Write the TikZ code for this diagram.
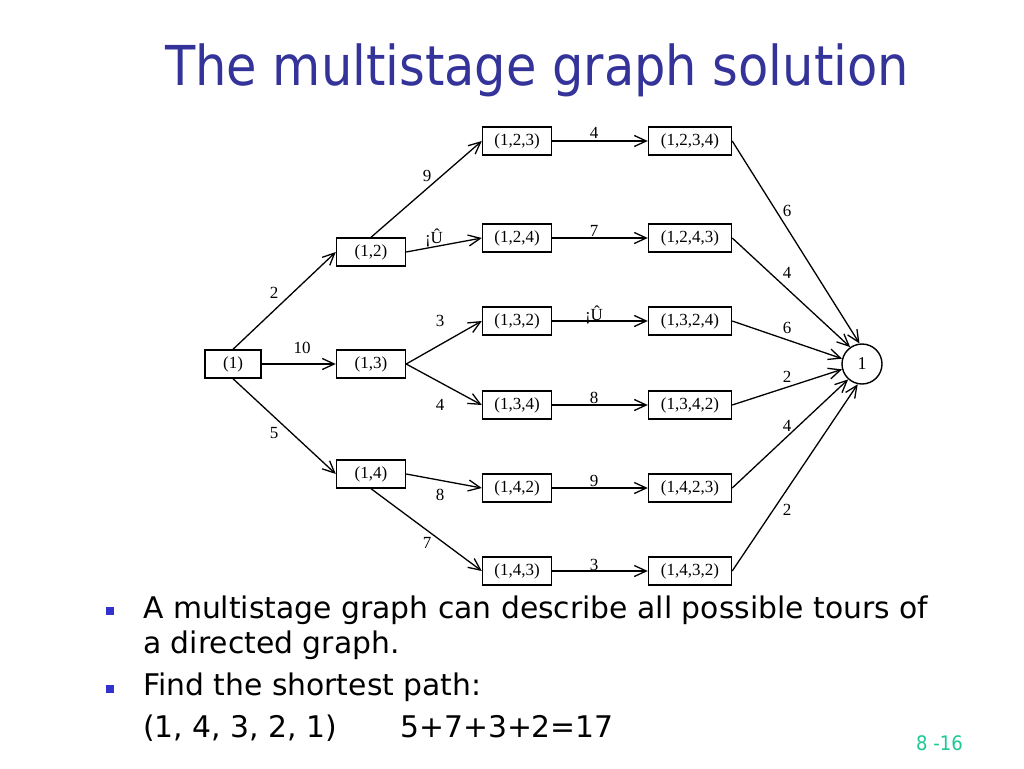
\documentclass[tikz,border=0pt]{standalone}
\usepackage{fontspec}
\setmainfont{Liberation Serif}
\newfontfamily\tahoma{DejaVu Sans Condensed}
\newfontfamily\verdana{DejaVu Sans}
\usetikzlibrary{arrows.meta}
\definecolor{titleblue}{RGB}{51,51,153}
\definecolor{bulletblue}{RGB}{51,51,204}
\definecolor{pageteal}{RGB}{30,200,150}
\begin{document}
\begin{tikzpicture}[x=1pt,y=-1pt,
  gbox/.style={draw, line width=1.4pt, minimum height=28pt, inner sep=0pt, font=\fontsize{17}{17}\selectfont},
  s1/.style={gbox, minimum width=56pt},
  s2/.style={gbox, minimum width=69pt},
  s3/.style={gbox, minimum width=83pt},
  arr/.style={line width=1.3pt, -{Straight Barb[length=12pt,width=11pt,line width=1.3pt]}},
  wlabel/.style={inner sep=0pt, font=\fontsize{17}{17}\selectfont},
  body/.style={anchor=base west, inner sep=0pt, font=\verdana\fontsize{29.8}{29.8}\selectfont},
  bullet/.style={fill=bulletblue, minimum size=8pt, inner sep=0pt}
]
\useasboundingbox (0,0) rectangle (1024,768);
\fill[white] (0,0) rectangle (1024,768);

% title
\node[anchor=base west, inner sep=0pt, text=titleblue, font=\tahoma\fontsize{55}{55}\selectfont] (title) at (165,85) {The multistage graph solution};

% graph nodes
\node[s1] (n1) at (233,364) {(1)};
\node[s2] (n12) at (371,252) {(1,2)};
\node[s2] (n13) at (371,364) {(1,3)};
\node[s2] (n14) at (371,474) {(1,4)};
\node[s2] (n123) at (517,141) {(1,2,3)};
\node[s2] (n124) at (517,238) {(1,2,4)};
\node[s2] (n132) at (517,321) {(1,3,2)};
\node[s2] (n134) at (517,405) {(1,3,4)};
\node[s2] (n142) at (517,488) {(1,4,2)};
\node[s2] (n143) at (517,571) {(1,4,3)};
\node[s3] (n1234) at (690,141) {(1,2,3,4)};
\node[s3] (n1243) at (690,238) {(1,2,4,3)};
\node[s3] (n1324) at (690,321) {(1,3,2,4)};
\node[s3] (n1342) at (690,405) {(1,3,4,2)};
\node[s3] (n1423) at (690,488) {(1,4,2,3)};
\node[s3] (n1432) at (690,571) {(1,4,3,2)};
\node[draw, circle, line width=1.4pt, minimum size=40pt, inner sep=0pt, font=\fontsize{18}{18}\selectfont] (end) at (862,364) {1};

% edges
\draw[arr] (n1.north) -- (n12.west);
\draw[arr] (n1.east) -- (n13.west);
\draw[arr] (n1.south) -- (n14.west);
\draw[arr] (n12.north) -- (n123.west);
\draw[arr] (n12.east) -- (n124.west);
\draw[arr] (n13.east) -- (n132.west);
\draw[arr] (n13.east) -- (n134.west);
\draw[arr] (n14.east) -- (n142.west);
\draw[arr] (n14.south) -- (n143.west);
\draw[arr] (n123.east) -- (n1234.west);
\draw[arr] (n124.east) -- (n1243.west);
\draw[arr] (n132.east) -- (n1324.west);
\draw[arr] (n134.east) -- (n1342.west);
\draw[arr] (n142.east) -- (n1423.west);
\draw[arr] (n143.east) -- (n1432.west);
\draw[arr] (n1234.east) -- (end.97);
\draw[arr] (n1243.east) -- (end.125);
\draw[arr] (n1324.east) -- (end.165);
\draw[arr] (n1342.east) -- (end.195);
\draw[arr] (n1423.east) -- (end.228);
\draw[arr] (n1432.east) -- (end.258);

% weights
\node[wlabel] (w1) at (274,293) {2};
\node[wlabel] (w2) at (302,348) {10};
\node[wlabel] (w3) at (274,433) {5};
\node[wlabel] (w4) at (427,176) {9};
\node[wlabel] (w5) at (434,238) {¡Û};
\node[wlabel] (w6) at (440,321) {3};
\node[wlabel] (w7) at (440,405) {4};
\node[wlabel] (w8) at (440,495) {8};
\node[wlabel] (w9) at (427,543) {7};
\node[wlabel] (w10) at (594,133) {4};
\node[wlabel] (w11) at (594,231) {7};
\node[wlabel] (w12) at (594,315) {¡Û};
\node[wlabel] (w13) at (594,398) {8};
\node[wlabel] (w14) at (594,481) {9};
\node[wlabel] (w15) at (594,565) {3};
\node[wlabel] (w16) at (787,211) {6};
\node[wlabel] (w17) at (787,273) {4};
\node[wlabel] (w18) at (787,328) {6};
\node[wlabel] (w19) at (787,377) {2};
\node[wlabel] (w20) at (787,426) {4};
\node[wlabel] (w21) at (787,510) {2};

% bullets and text
\node[bullet] (b1) at (110,611) {};
\node[bullet] (b2) at (110,689) {};
\node[body] (t1) at (143,618) {A multistage graph can describe all possible tours of};
\node[body] (t2) at (143,653) {a directed graph.};
\node[body] (t3) at (143,695) {Find the shortest path:};
\node[body] (t4) at (143,737) {(1, 4, 3, 2, 1)};
\node[body] (t5) at (400,737) {5+7+3+2=17};
\node[anchor=base west, inner sep=0pt, text=pageteal, font=\tahoma\fontsize{20}{20}\selectfont] (page) at (916,750) {8 -16};
\end{tikzpicture}
\end{document}
